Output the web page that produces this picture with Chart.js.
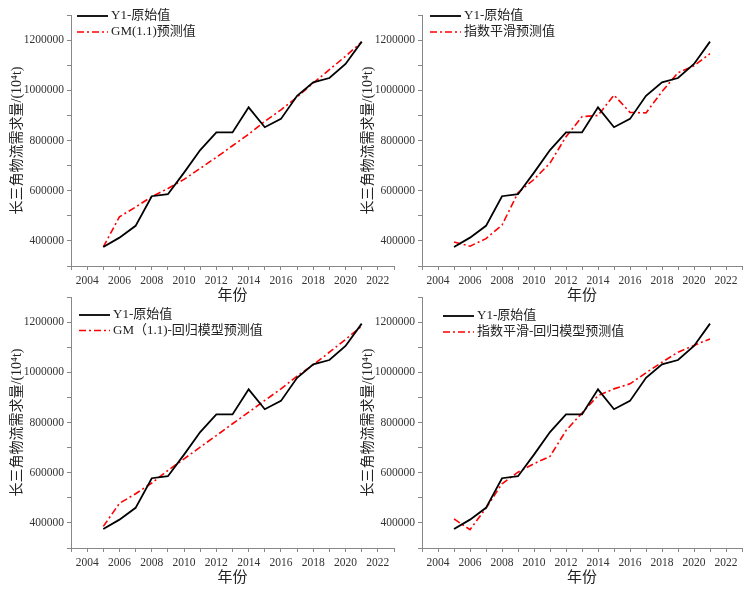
<!DOCTYPE html>
<html>
<head>
<meta charset="utf-8">
<script src="https://cdn.jsdelivr.net/npm/chart.js@4.4.0/dist/chart.umd.min.js"></script>
<style>
  body { margin: 0; background: #fff; width: 746px; height: 594px; position: relative; overflow: hidden; }
  .box { position: absolute; height: 305px; }
</style>
</head>
<body>
<div class="box" style="left:0;top:0;width:400px"><canvas id="c1"></canvas></div>
<div class="box" style="left:351px;top:0;width:395px"><canvas id="c2"></canvas></div>
<div class="box" style="left:0;top:282px;width:400px"><canvas id="c3"></canvas></div>
<div class="box" style="left:351px;top:282px;width:395px"><canvas id="c4"></canvas></div>
<script>
// values (10^4 t)
const years = [2005, 2006, 2007, 2008, 2009, 2010, 2011, 2012, 2013, 2014, 2015, 2016, 2017, 2018, 2019, 2020, 2021];
const original = [376000, 413000, 460000, 578000, 586000, 672000, 762000, 832000, 832000, 932000, 853000, 886000, 978000, 1032000, 1049000, 1105000, 1194000];
const gmPred = [376000, 496000, 535000, 576000, 609000, 645000, 689000, 733000, 779000, 825000, 876000, 922000, 973000, 1029000, 1082000, 1136000, 1192000];
const smoothPred = [396000, 379000, 409000, 463000, 592000, 645000, 710000, 815000, 895000, 900000, 981000, 912000, 910000, 995000, 1070000, 1098000, 1146000];
const gmRegPred = [386000, 478000, 516000, 559000, 609000, 655000, 702000, 748000, 795000, 841000, 888000, 934000, 985000, 1030000, 1080000, 1131000, 1184000];
const smoothRegPred = [416000, 373000, 459000, 556000, 602000, 636000, 665000, 768000, 838000, 907000, 934000, 954000, 998000, 1040000, 1080000, 1107000, 1133000];

const yearTicks = [2004, 2006, 2008, 2010, 2012, 2014, 2016, 2018, 2020, 2022];
const valueTicks = [400000, 600000, 800000, 1000000, 1200000];

const FONT = '"Liberation Serif", "Noto Sans CJK SC", serif';
Chart.defaults.font.family = FONT;
Chart.defaults.color = '#333';

function points(vals) {
  return years.map((y, i) => ({ x: y, y: vals[i] }));
}

// legend drawn inside the plot area, top-left
function innerLegend(dx, dy, step) {
  return {
    id: 'innerLegend',
    afterDraw(chart) {
      const ctx = chart.ctx, a = chart.chartArea;
      ctx.save();
      ctx.font = '13px ' + FONT;
      ctx.textBaseline = 'middle';
      chart.data.datasets.forEach((ds, i) => {
        const x = a.left + dx, y = a.top + dy + i * step;
        ctx.strokeStyle = ds.borderColor;
        ctx.lineWidth = ds.borderWidth;
        ctx.setLineDash(ds.borderDash || []);
        ctx.beginPath(); ctx.moveTo(x, y); ctx.lineTo(x + 31, y); ctx.stroke();
        ctx.fillStyle = '#222';
        ctx.fillText(ds.label, x + 34, y);
      });
      ctx.restore();
    }
  };
}

function makeChart(id, predLabel, pred, rightPad, leg) {
  new Chart(document.getElementById(id), {
    type: 'line',
    data: {
      datasets: [
        { label: 'Y1-原始值', data: points(original), borderColor: '#000', borderWidth: 1.8, pointRadius: 0, tension: 0 },
        { label: predLabel, data: points(pred), borderColor: '#ff0000', borderWidth: 1.6, borderDash: [7, 3, 2, 3], pointRadius: 0, tension: 0 }
      ]
    },
    options: {
      responsive: true,
      maintainAspectRatio: false,
      animation: false,
      layout: { padding: { left: 0, top: 15, right: rightPad, bottom: 0 } },
      plugins: { legend: { display: false }, tooltip: { enabled: false } },
      scales: {
        x: {
          type: 'linear', min: 2003, max: 2023,
          afterFit(s) { s.height = 39; },
          ticks: {
            stepSize: 1, autoSkip: false, maxRotation: 0, padding: 4,
            font: { size: 11.5 },
            callback: v => yearTicks.includes(v) ? String(v) : ''
          },
          grid: { drawOnChartArea: false, tickLength: 4, color: '#888' },
          border: { color: '#888' },
          title: { display: true, text: '年份', font: { size: 15 }, padding: { top: 0, bottom: 0 }, color: '#222' }
        },
        y: {
          min: 300000, max: 1300000,
          afterFit(s) { s.width = 71; },
          ticks: {
            stepSize: 100000, autoSkip: false, padding: 3,
            font: { size: 11.5 },
            callback: v => valueTicks.includes(v) ? String(v) : ''
          },
          grid: { drawOnChartArea: false, tickLength: 4, color: '#888' },
          border: { color: '#888' },
          title: { display: true, text: '长三角物流需求量/(10⁴t)', font: { size: 14 }, padding: { top: 9, bottom: 0 }, color: '#222' }
        }
      }
    },
    plugins: [innerLegend(leg[0], leg[1], leg[2])]
  });
}

makeChart('c1', 'GM(1.1)预测值', gmPred, 6, [6, 1, 16]);
makeChart('c2', '指数平滑预测值', smoothPred, 1.5, [8, 1, 16]);
makeChart('c3', 'GM（1.1)-回归模型预测值', gmRegPred, 6, [8, 18, 15.5]);
makeChart('c4', '指数平滑-回归模型预测值', smoothRegPred, 1.5, [21, 19, 16]);
</script>
</body>
</html>
